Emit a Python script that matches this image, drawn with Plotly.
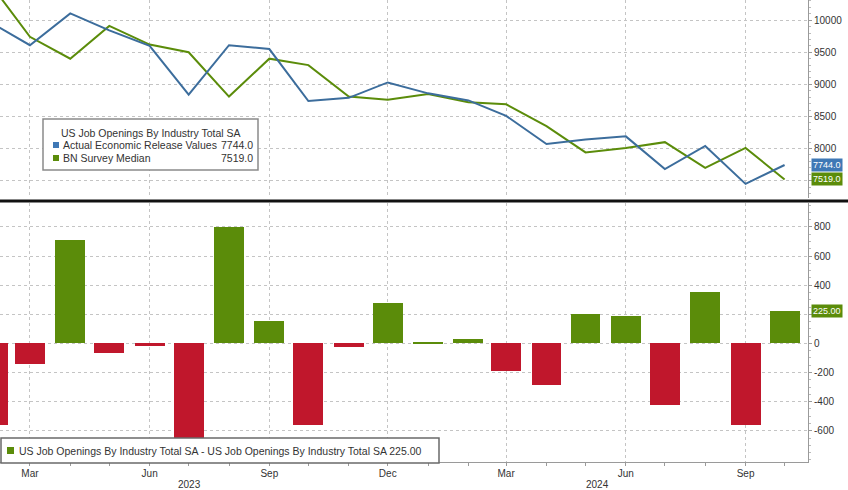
import plotly.graph_objects as go

# ---------------- data ----------------
months = ["2023-02-01", "2023-03-01", "2023-04-01", "2023-05-01", "2023-06-01", "2023-07-01",
          "2023-08-01", "2023-09-01", "2023-10-01", "2023-11-01", "2023-12-01", "2024-01-01",
          "2024-02-01", "2024-03-01", "2024-04-01", "2024-05-01", "2024-06-01", "2024-07-01",
          "2024-08-01", "2024-09-01", "2024-10-01"]
actual = [9940, 9610, 10105, 9840, 9600, 8840, 9610, 9550, 8740, 8790, 9030, 8860,
          8750, 8510, 8070, 8140, 8190, 7680, 8040, 7450, 7744]
median = [10500, 9740, 9400, 9910, 9620, 9500, 8810, 9400, 9300, 8810, 8760, 8850,
          8720, 8690, 8350, 7940, 8010, 8100, 7700, 8010, 7519]
surprise = [-560, -138, 710, -69, -16, -660, 800, 153, -562, -23, 279, 11,
            28, -188, -287, 199, 188, -424, 350, -557, 225]

legend_title = "US Job Openings By Industry Total SA"
actual_name = "Actual Economic Release Values"
median_name = "BN Survey Median"
actual_last = "7744.0"
median_last = "7519.0"
bar_name = "US Job Openings By Industry Total SA - US Job Openings By Industry Total SA"
bar_last = "225.00"

major_ticks = ["2023-03-01", "2023-06-01", "2023-09-01", "2023-12-01",
               "2024-03-01", "2024-06-01", "2024-09-01"]
major_text = ["Mar", "Jun", "Sep", "Dec", "Mar", "Jun", "Sep"]
years = ["2023", "2024"]
year_pos = ["2023-07-02", "2024-05-10"]

top_ticks = [8000, 8500, 9000, 9500, 10000]
bot_ticks = [-600, -400, -200, 0, 200, 400, 600, 800]
bot_text = ["-600", "-400", "-200", "0", "", "400", "600", "800"]

# ---------------- style ----------------
BLUE = "#3c6d9c"
BLUE_TAG = "#3f78b5"
GREEN = "#5b8c0a"
RED = "#c0172c"
GRID = "#c4c4c4"
AX = "#9a9a9a"
TXT = "#333333"
FONT = "Liberation Sans, Arial, sans-serif"
LEG = 10.5

W, H = 848, 490
ML, MR, MT, MB = 0, 40, 0, 28
PW, PH = W - ML - MR, H - MT - MB


def px(x):
    return (x - ML) / PW


def py(y):
    return (H - MB - y) / PH


x_range = ["2023-02-06", "2024-10-19"]

fig = go.Figure()

fig.add_trace(go.Scatter(x=months, y=median, mode="lines", name=median_name,
                         line=dict(color=GREEN, width=2), xaxis="x", yaxis="y",
                         showlegend=False))
fig.add_trace(go.Scatter(x=months, y=actual, mode="lines", name=actual_name,
                         line=dict(color=BLUE, width=2), xaxis="x", yaxis="y",
                         showlegend=False))
fig.add_trace(go.Bar(x=months, y=surprise, name=bar_name,
                     marker=dict(color=[GREEN if v >= 0 else RED for v in surprise],
                                 line=dict(width=0)),
                     width=23 * 86400000, xaxis="x2", yaxis="y2", showlegend=False))

top_dom = [py(198), 1]
bot_dom = [py(462), py(203)]

common_x = dict(type="date", range=x_range, showgrid=True, gridcolor=GRID, griddash="dot",
                gridwidth=1, tickvals=major_ticks, zeroline=False)

fig.update_layout(
    width=W, height=H,
    margin=dict(l=ML, r=MR, t=MT, b=MB, autoexpand=False),
    paper_bgcolor="white", plot_bgcolor="white",
    font=dict(family=FONT, size=10, color=TXT),
    bargap=0,
    xaxis=dict(**common_x, domain=[0, 1], anchor="y", showticklabels=False, ticks=""),
    xaxis2=dict(**common_x, domain=[0, 1], anchor="y2", ticktext=major_text,
                ticks="outside", ticklen=2, tickcolor=AX, showline=True, linecolor=AX,
                tickfont=dict(size=10, color=TXT),
                minor=dict(dtick="M1", tick0="2023-01-01", ticks="outside", ticklen=3,
                           tickcolor=AX, showgrid=False)),
    yaxis=dict(domain=top_dom, range=[7230, 10314], side="right", anchor="x",
               tickvals=[7500] + top_ticks, ticktext=[""] + [str(v) for v in top_ticks],
               showgrid=True, gridcolor=GRID, griddash="dot", zeroline=False,
               ticks="outside", ticklen=3, tickcolor=AX, showline=True, linecolor=AX,
               tickfont=dict(size=10, color=TXT),
               minor=dict(dtick=100, ticks="outside", ticklen=2, tickcolor="#bbbbbb",
                          showgrid=False)),
    yaxis2=dict(domain=bot_dom, range=[-814, 964], side="right", anchor="x2",
                tickvals=bot_ticks, ticktext=bot_text,
                showgrid=True, gridcolor=GRID, griddash="dot", zeroline=False,
                ticks="outside", ticklen=3, tickcolor=AX, showline=True, linecolor=AX,
                tickfont=dict(size=10, color=TXT),
                minor=dict(dtick=50, ticks="outside", ticklen=2, tickcolor="#bbbbbb",
                           showgrid=False)),
)

shapes = []
annotations = []

# separator between panels
shapes.append(dict(type="line", xref="paper", yref="paper", x0=px(0), x1=px(W),
                   y0=py(201), y1=py(201), line=dict(color="#111111", width=3)))

# top legend box
shapes.append(dict(type="rect", xref="paper", yref="paper", x0=px(43), x1=px(258),
                   y0=py(170), y1=py(119), fillcolor="white",
                   line=dict(color="#8a8a8a", width=1.5), layer="above"))
shapes.append(dict(type="rect", xref="paper", yref="paper", x0=px(53), x1=px(59),
                   y0=py(148), y1=py(142), fillcolor=BLUE_TAG, line=dict(width=0),
                   layer="above"))
shapes.append(dict(type="rect", xref="paper", yref="paper", x0=px(53), x1=px(59),
                   y0=py(161), y1=py(155), fillcolor=GREEN, line=dict(width=0),
                   layer="above"))
annotations.append(dict(xref="paper", yref="paper", x=px(151), y=py(133), text=legend_title,
                        showarrow=False, xanchor="center", yanchor="middle",
                        font=dict(size=LEG, color=TXT)))
annotations.append(dict(xref="paper", yref="paper", x=px(61), y=py(145), text=actual_name,
                        showarrow=False, xanchor="left", yanchor="middle",
                        font=dict(size=LEG, color=TXT)))
annotations.append(dict(xref="paper", yref="paper", x=px(61), y=py(158), text=median_name,
                        showarrow=False, xanchor="left", yanchor="middle",
                        font=dict(size=LEG, color=TXT)))
annotations.append(dict(xref="paper", yref="paper", x=px(255), y=py(145), text=actual_last,
                        showarrow=False, xanchor="right", yanchor="middle",
                        font=dict(size=LEG, color=TXT)))
annotations.append(dict(xref="paper", yref="paper", x=px(255), y=py(158), text=median_last,
                        showarrow=False, xanchor="right", yanchor="middle",
                        font=dict(size=LEG, color=TXT)))

# bottom legend box
shapes.append(dict(type="rect", xref="paper", yref="paper", x0=px(1), x1=px(439),
                   y0=py(463), y1=py(438), fillcolor="white",
                   line=dict(color="#6a6a6a", width=1.5), layer="above"))
shapes.append(dict(type="rect", xref="paper", yref="paper", x0=px(7), x1=px(14),
                   y0=py(454), y1=py(447), fillcolor=GREEN, line=dict(width=0),
                   layer="above"))
annotations.append(dict(xref="paper", yref="paper", x=px(17), y=py(450.5),
                        text=bar_name + " " + bar_last, showarrow=False,
                        xanchor="left", yanchor="middle", font=dict(size=LEG, color=TXT)))

# value tags on the right axis
annotations.append(dict(xref="paper", yref="y", x=1.0, y=actual[-1], text=actual_last,
                        showarrow=False, xanchor="left", yanchor="middle", xshift=3,
                        bgcolor=BLUE_TAG, borderpad=1,
                        font=dict(size=9, color="white")))
annotations.append(dict(xref="paper", yref="y", x=1.0, y=median[-1], text=median_last,
                        showarrow=False, xanchor="left", yanchor="middle", xshift=3,
                        bgcolor=GREEN, borderpad=1,
                        font=dict(size=9, color="white")))
annotations.append(dict(xref="paper", yref="y2", x=1.0, y=surprise[-1], text=bar_last,
                        showarrow=False, xanchor="left", yanchor="middle", xshift=3,
                        bgcolor=GREEN, borderpad=1,
                        font=dict(size=9, color="white")))

# year labels
for yr, pos in zip(years, year_pos):
    annotations.append(dict(xref="x2", yref="paper", x=pos, y=py(484), text=yr,
                            showarrow=False, xanchor="center", yanchor="middle",
                            font=dict(size=10, color=TXT)))

fig.update_layout(shapes=shapes, annotations=annotations)

fig.write_html("out.html", config={"displayModeBar": False},
               post_script="document.body.style.margin='0';document.body.style.padding='0';")
